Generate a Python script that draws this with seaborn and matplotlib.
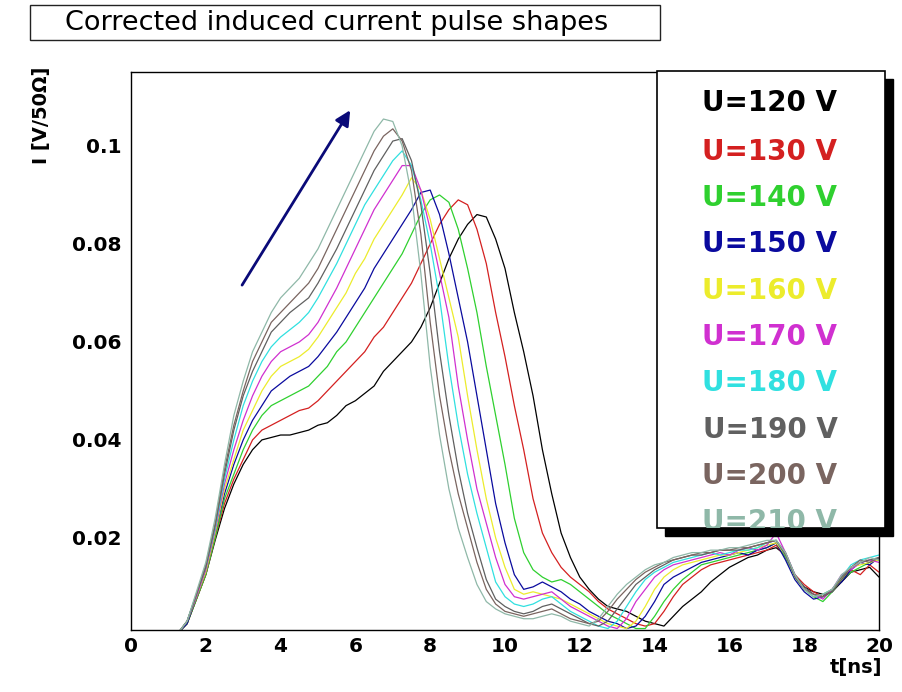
import numpy as np
import pandas as pd
import matplotlib
matplotlib.use("Agg")
import matplotlib.pyplot as plt
from matplotlib.patches import Rectangle
from matplotlib.ticker import MultipleLocator, FixedLocator
import seaborn as sns

# sampling times of the pulse shapes [ns]
t_ns = np.arange(1.25, 20.001, 0.25)

voltages = ["U=120 V", "U=130 V", "U=140 V", "U=150 V", "U=160 V",
            "U=170 V", "U=180 V", "U=190 V", "U=200 V", "U=210 V"]
colors = ["#000000", "#d42020", "#2fd02f", "#0a0a9e", "#ecec2c",
          "#d030d0", "#30e0e0", "#606060", "#7a6560", "#8fb8a8"]

i_120 = [0.0005, 0.0025, 0.0075, 0.0125, 0.0195, 0.026,
         0.031, 0.035, 0.038, 0.040, 0.0405, 0.041, 0.041, 0.0415, 0.042, 0.043, 0.0435, 0.045, 0.047, 0.048, 0.0495, 0.051,
         0.054, 0.056, 0.058, 0.060, 0.063, 0.067, 0.072, 0.077, 0.081, 0.084, 0.086, 0.0855, 0.081, 0.075, 0.066, 0.058,
         0.049, 0.038, 0.029, 0.021, 0.016, 0.012, 0.0095, 0.0075, 0.006, 0.0055, 0.005, 0.004, 0.003, 0.0025, 0.002, 0.004,
         0.006, 0.0075, 0.009, 0.011, 0.0125, 0.014, 0.015, 0.016, 0.0165, 0.0175, 0.018, 0.0165, 0.012, 0.010, 0.009, 0.0085,
         0.009, 0.011, 0.013, 0.0135, 0.014, 0.012]
i_130 = [0.0005, 0.0025, 0.0075, 0.0125, 0.020, 0.027,
         0.032, 0.036, 0.040, 0.042, 0.043, 0.044, 0.045, 0.046, 0.0465, 0.048, 0.050, 0.052, 0.054, 0.056, 0.058, 0.061,
         0.063, 0.066, 0.069, 0.072, 0.076, 0.080, 0.084, 0.087, 0.089, 0.088, 0.083, 0.076, 0.066, 0.057, 0.047, 0.038,
         0.028, 0.021, 0.017, 0.014, 0.012, 0.0105, 0.009, 0.007, 0.0055, 0.0045, 0.0035, 0.0025, 0.002, 0.0025, 0.005, 0.008,
         0.0105, 0.012, 0.0135, 0.0145, 0.015, 0.0155, 0.016, 0.0165, 0.017, 0.0175, 0.0185, 0.016, 0.0125, 0.0105, 0.009, 0.008,
         0.0095, 0.0115, 0.0135, 0.0125, 0.0145, 0.013]
i_140 = [0.0005, 0.0025, 0.0075, 0.0125, 0.020, 0.028,
         0.033, 0.038, 0.042, 0.045, 0.047, 0.048, 0.049, 0.050, 0.051, 0.053, 0.055, 0.058, 0.060, 0.063, 0.066, 0.069,
         0.072, 0.075, 0.078, 0.082, 0.086, 0.089, 0.090, 0.0885, 0.083, 0.075, 0.066, 0.055, 0.045, 0.035, 0.024, 0.017,
         0.0135, 0.012, 0.011, 0.0115, 0.0105, 0.009, 0.0075, 0.006, 0.0045, 0.0035, 0.0025, 0.0015, 0.0015, 0.004, 0.007, 0.0095,
         0.0115, 0.013, 0.0145, 0.015, 0.0155, 0.016, 0.0165, 0.017, 0.0175, 0.018, 0.019, 0.016, 0.012, 0.0095, 0.008, 0.007,
         0.009, 0.0115, 0.013, 0.014, 0.015, 0.0155]
i_150 = [0.0005, 0.0025, 0.008, 0.013, 0.021, 0.029,
         0.035, 0.040, 0.044, 0.047, 0.050, 0.0515, 0.053, 0.054, 0.055, 0.057, 0.0595, 0.062, 0.065, 0.068, 0.071, 0.075,
         0.078, 0.081, 0.084, 0.087, 0.0905, 0.091, 0.086, 0.078, 0.069, 0.060, 0.049, 0.038, 0.027, 0.019, 0.0125, 0.0095,
         0.010, 0.011, 0.010, 0.009, 0.0075, 0.0065, 0.005, 0.004, 0.003, 0.0025, 0.0015, 0.002, 0.004, 0.007, 0.0105, 0.012,
         0.013, 0.014, 0.015, 0.0155, 0.016, 0.0165, 0.017, 0.0165, 0.0175, 0.018, 0.019, 0.0155, 0.0115, 0.009, 0.0075, 0.008,
         0.0095, 0.011, 0.0135, 0.015, 0.0145, 0.016]
i_160 = [0.0005, 0.003, 0.008, 0.013, 0.021, 0.030,
         0.036, 0.042, 0.046, 0.050, 0.053, 0.055, 0.056, 0.057, 0.0585, 0.061, 0.064, 0.067, 0.070, 0.074, 0.077, 0.081,
         0.084, 0.087, 0.090, 0.0935, 0.091, 0.085, 0.077, 0.069, 0.061, 0.049, 0.038, 0.028, 0.020, 0.014, 0.0095, 0.0085,
         0.009, 0.0085, 0.008, 0.0075, 0.0065, 0.0055, 0.0045, 0.0035, 0.0025, 0.002, 0.0015, 0.003, 0.006, 0.0095, 0.012, 0.0135,
         0.0145, 0.015, 0.0155, 0.016, 0.0165, 0.0165, 0.017, 0.0175, 0.018, 0.0185, 0.019, 0.0165, 0.012, 0.0095, 0.008, 0.0085,
         0.0095, 0.0115, 0.014, 0.0145, 0.015, 0.0155]
i_170 = [0.0005, 0.003, 0.008, 0.0135, 0.0215, 0.031,
         0.038, 0.044, 0.049, 0.053, 0.056, 0.058, 0.059, 0.060, 0.0615, 0.064, 0.0675, 0.071, 0.075, 0.079, 0.083, 0.087,
         0.090, 0.093, 0.096, 0.096, 0.091, 0.083, 0.074, 0.065, 0.051, 0.040, 0.030, 0.023, 0.016, 0.0105, 0.008, 0.0075,
         0.008, 0.0085, 0.009, 0.0075, 0.006, 0.005, 0.004, 0.003, 0.002, 0.0015, 0.0035, 0.007, 0.0095, 0.012, 0.0135, 0.0145,
         0.015, 0.0155, 0.016, 0.0165, 0.017, 0.0165, 0.0175, 0.018, 0.0175, 0.0185, 0.021, 0.017, 0.0125, 0.0095, 0.0085, 0.0075,
         0.0095, 0.0125, 0.0135, 0.015, 0.0155, 0.015]
i_180 = [0.0005, 0.003, 0.0085, 0.014, 0.022, 0.032,
         0.040, 0.047, 0.052, 0.056, 0.059, 0.061, 0.0625, 0.064, 0.066, 0.069, 0.0725, 0.076, 0.080, 0.084, 0.088, 0.091,
         0.094, 0.097, 0.099, 0.096, 0.089, 0.080, 0.069, 0.055, 0.043, 0.033, 0.025, 0.018, 0.011, 0.008, 0.0065, 0.006,
         0.0065, 0.0075, 0.008, 0.0065, 0.005, 0.004, 0.003, 0.002, 0.0015, 0.003, 0.006, 0.009, 0.0115, 0.013, 0.014, 0.015,
         0.0155, 0.016, 0.0165, 0.017, 0.0165, 0.017, 0.0175, 0.0175, 0.018, 0.019, 0.0195, 0.0165, 0.012, 0.0095, 0.008, 0.0085,
         0.0095, 0.012, 0.0145, 0.0155, 0.016, 0.0165]
i_190 = [0.0005, 0.003, 0.0085, 0.014, 0.0225, 0.033,
         0.042, 0.049, 0.054, 0.058, 0.062, 0.064, 0.066, 0.0675, 0.069, 0.072, 0.0755, 0.079, 0.083, 0.087, 0.091, 0.095,
         0.098, 0.101, 0.1015, 0.097, 0.088, 0.074, 0.058, 0.045, 0.034, 0.025, 0.018, 0.0115, 0.0075, 0.006, 0.005, 0.0045,
         0.005, 0.006, 0.0065, 0.0055, 0.0045, 0.0035, 0.0025, 0.002, 0.003, 0.0055, 0.008, 0.0105, 0.012, 0.0135, 0.0145, 0.0155,
         0.016, 0.0165, 0.0165, 0.017, 0.0175, 0.0175, 0.0175, 0.018, 0.0185, 0.019, 0.0195, 0.017, 0.0125, 0.010, 0.0085, 0.008,
         0.009, 0.0115, 0.014, 0.015, 0.0155, 0.016]
i_200 = [0.0005, 0.003, 0.0085, 0.0145, 0.023, 0.034,
         0.043, 0.050, 0.056, 0.060, 0.064, 0.066, 0.068, 0.070, 0.072, 0.075, 0.079, 0.083, 0.087, 0.091, 0.095, 0.099,
         0.102, 0.1035, 0.101, 0.095, 0.082, 0.064, 0.049, 0.038, 0.029, 0.022, 0.015, 0.0095, 0.0065, 0.005, 0.0045, 0.004,
         0.0045, 0.005, 0.0055, 0.0045, 0.0035, 0.003, 0.0025, 0.003, 0.005, 0.0075, 0.0095, 0.0115, 0.013, 0.014, 0.015, 0.0155,
         0.016, 0.0165, 0.017, 0.017, 0.0175, 0.0175, 0.018, 0.018, 0.0185, 0.019, 0.0195, 0.0165, 0.012, 0.0095, 0.0085, 0.008,
         0.0095, 0.012, 0.014, 0.0155, 0.015, 0.016]
i_210 = [0.0005, 0.003, 0.009, 0.015, 0.024, 0.035,
         0.045, 0.052, 0.058, 0.062, 0.066, 0.069, 0.071, 0.073, 0.076, 0.079, 0.083, 0.087, 0.091, 0.095, 0.099, 0.103,
         0.1055, 0.105, 0.100, 0.090, 0.074, 0.055, 0.041, 0.030, 0.022, 0.016, 0.0105, 0.007, 0.0055, 0.0045, 0.004, 0.0035,
         0.0035, 0.004, 0.0045, 0.004, 0.003, 0.0025, 0.002, 0.0035, 0.006, 0.0085, 0.0105, 0.012, 0.0135, 0.0145, 0.015, 0.016,
         0.0165, 0.017, 0.017, 0.0175, 0.0175, 0.018, 0.018, 0.0185, 0.019, 0.0195, 0.0195, 0.017, 0.0125, 0.0095, 0.008, 0.0085,
         0.0095, 0.0125, 0.014, 0.015, 0.016, 0.0155]

currents = [i_120, i_130, i_140, i_150, i_160, i_170, i_180, i_190, i_200, i_210]

frames = [pd.DataFrame({"t": t_ns, "I": vals, "U": lab})
          for lab, vals in zip(voltages, currents)]
df = pd.concat(frames, ignore_index=True)

sns.set_style("white")
plt.rcParams["font.family"] = ["DejaVu Sans"]
plt.rcParams["text.color"] = "black"
plt.rcParams["xtick.color"] = "black"
plt.rcParams["ytick.color"] = "black"

W, H = 903, 692
fig = plt.figure(figsize=(W / 100, H / 100), dpi=100)
ax = fig.add_axes([131 / W, 1 - 630 / H, (879 - 131) / W, (630 - 72) / H])

sns.lineplot(data=df, x="t", y="I", hue="U", hue_order=voltages,
             palette=dict(zip(voltages, colors)),
             estimator=None, sort=False, linewidth=0.9, legend=False, ax=ax)

ax.set_xlim(0, 20)
ax.set_ylim(0.0012, 0.1151)
ax.set_xlabel("")
ax.set_ylabel("")

ax.xaxis.set_major_locator(MultipleLocator(2))
ax.xaxis.set_minor_locator(MultipleLocator(0.5))
ax.yaxis.set_major_locator(FixedLocator([0.02, 0.04, 0.06, 0.08, 0.1]))
ax.yaxis.set_minor_locator(MultipleLocator(0.005))
ax.tick_params(axis="both", which="both", direction="in", top=False, right=False,
               color="black", labelcolor="black", width=1.0)
ax.tick_params(axis="x", which="major", length=14, pad=5)
ax.tick_params(axis="x", which="minor", length=7)
ax.tick_params(axis="y", which="major", length=11, pad=7)
ax.tick_params(axis="y", which="minor", length=5.5)
ax.set_xticks(np.arange(0, 21, 2))
ax.set_xticklabels([f"{v:g}" for v in np.arange(0, 21, 2)])
ax.set_yticks([0.02, 0.04, 0.06, 0.08, 0.1])
ax.set_yticklabels(["0.02", "0.04", "0.06", "0.08", "0.1"])
for lab in ax.get_xticklabels() + ax.get_yticklabels():
    lab.set_fontweight("bold")
    lab.set_fontsize(14.5)
    lab.set_color("black")
for sp in ax.spines.values():
    sp.set_color("black")
    sp.set_linewidth(1.0)

# axis titles in the ROOT manner
fig.text(856 / W, 1 - 668 / H, "t[ns]", ha="center", va="center",
         fontsize=14, fontweight="bold", color="black")
fig.text(42 / W, 1 - 115 / H, "I [V/50\u03a9]", ha="center", va="center",
         rotation=90, fontsize=14, fontweight="bold", color="black")

# voltage scan direction
ax.annotate("", xy=(5.86, 0.1073), xytext=(2.97, 0.0716),
            arrowprops=dict(arrowstyle="-|>,head_length=0.9,head_width=0.45",
                            color="#0a0a78", lw=2.0, shrinkA=0, shrinkB=0))

# title box
fig.patches.append(Rectangle((30 / W, 1 - 40 / H), 630 / W, 35 / H,
                             transform=fig.transFigure, facecolor="white",
                             edgecolor="#222222", linewidth=1.0, zorder=5))
fig.text(337 / W, 1 - 23 / H, "Corrected induced current pulse shapes",
         ha="center", va="center", fontsize=19.5, color="black", zorder=6)

# legend with drop shadow
lx0, lx1, ly0, ly1 = 657, 885, 71, 528
fig.patches.append(Rectangle(((lx0 + 8) / W, 1 - (ly1 + 8) / H), (lx1 - lx0) / W,
                             (ly1 - ly0) / H, transform=fig.transFigure,
                             facecolor="black", edgecolor="black", zorder=5))
box = Rectangle((lx0 / W, 1 - ly1 / H), (lx1 - lx0) / W, (ly1 - ly0) / H,
                transform=fig.transFigure, facecolor="white",
                edgecolor="black", linewidth=1.2, zorder=6)
fig.patches.append(box)
row_y = [103, 152, 198, 244, 291, 337, 383, 430, 476, 522]
for lab, col, yy in zip(voltages, colors, row_y):
    tx = fig.text(770 / W, 1 - yy / H, lab, ha="center", va="center",
                  fontsize=20, fontweight="bold", color=col, zorder=7)
    tx.set_clip_path(box)

fig.savefig("out.png", dpi=100)
